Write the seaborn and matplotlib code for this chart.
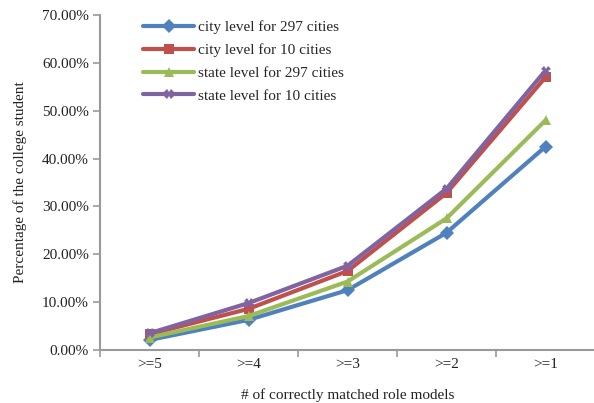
import matplotlib
matplotlib.use("Agg")
import matplotlib.pyplot as plt
import seaborn as sns
import pandas as pd
from matplotlib.ticker import FuncFormatter, FixedLocator

categories = [">=5", ">=4", ">=3", ">=2", ">=1"]
city_297 = [2.1, 6.3, 12.5, 24.5, 42.5]
city_10 = [3.3, 8.6, 16.5, 32.8, 57.0]
state_297 = [2.6, 7.1, 14.3, 27.5, 48.0]
state_10 = [3.5, 9.8, 17.6, 33.7, 58.4]
series_names = ["city level for 297 cities", "city level for 10 cities",
                "state level for 297 cities", "state level for 10 cities"]

rows = []
for name, vals in zip(series_names, [city_297, city_10, state_297, state_10]):
    for i, (c, v) in enumerate(zip(categories, vals)):
        rows.append({"series": name, "idx": i, "cat": c, "value": v})
df = pd.DataFrame(rows)

sns.set_theme(style="white")
plt.rcParams["font.family"] = ["Liberation Serif", "DejaVu Serif"]

fig = plt.figure(figsize=(5.94, 4.03), dpi=100)
ax = fig.add_axes([100/594, 1-350/403, 495/594, (350-15)/403])

palette = ["#4F81BD", "#C0504D", "#9BBB59", "#8064A2"]
markers = ["D", "s", "^", "X"]
sns.lineplot(data=df, x="idx", y="value", hue="series", style="series",
             palette=palette, markers=markers, dashes=False, linewidth=3,
             markersize=7, markeredgewidth=0, ax=ax)

ax.set_xlim(-0.5, 4.5)
ax.set_ylim(0, 70)
ax.set_yticks(range(0, 71, 10))
ax.yaxis.set_major_formatter(FuncFormatter(lambda v, p: f"{v:.2f}%"))
ax.set_xticks(range(5))
ax.set_xticklabels(categories)
ax.xaxis.set_minor_locator(FixedLocator([-0.5, 0.5, 1.5, 2.5, 3.5, 4.5]))

for s in ["top", "right"]:
    ax.spines[s].set_visible(False)
for s in ["left", "bottom"]:
    ax.spines[s].set_color("#999999")
    ax.spines[s].set_linewidth(1.5)

ax.tick_params(axis="y", which="major", left=True, length=5, width=1.2,
               color="#999999", labelsize=11, pad=3, labelcolor="#222222")
ax.tick_params(axis="x", which="major", bottom=False, length=0, labelsize=11,
               pad=6, labelcolor="#222222")
ax.tick_params(axis="x", which="minor", bottom=True, length=5, width=1.2,
               color="#999999")

ax.set_xlabel("# of correctly matched role models", fontsize=11, labelpad=12,
              color="#222222")
ax.set_ylabel("Percentage of the college student", fontsize=11, labelpad=11,
              color="#222222")

leg = ax.legend(loc="upper left", bbox_to_anchor=(0.06, 1.025), frameon=False,
                fontsize=11, handlelength=3.3, labelspacing=0.6,
                handletextpad=0.25, title=None)
for line in leg.get_lines():
    line.set_linewidth(3)

fig.savefig("out.png", dpi=100)
